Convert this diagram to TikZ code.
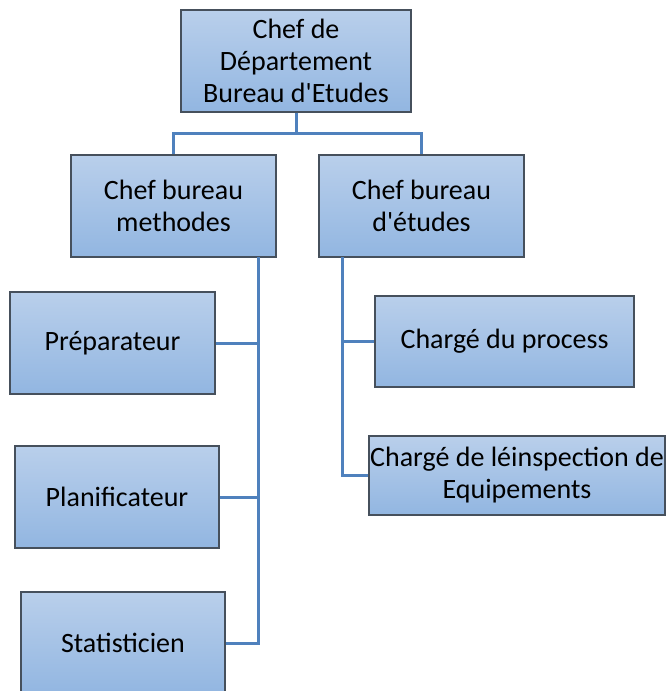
\documentclass[tikz,border=0pt]{standalone}
\usepackage{fontspec}
\setmainfont{Carlito}
\definecolor{boxtop}{RGB}{185,207,235}
\definecolor{boxbot}{RGB}{146,182,225}
\definecolor{boxline}{RGB}{70,80,92}
\definecolor{linkblue}{RGB}{79,129,189}
\tikzset{
  unit/.style={draw=boxline, line width=1.2pt, top color=boxtop, bottom color=boxbot,
    inner sep=0pt, align=center, font=\fontsize{28}{32}\selectfont},
  link/.style={draw=linkblue, line width=3pt}
}
\begin{document}
\begin{tikzpicture}[x=1pt,y=-1pt]
  \useasboundingbox (0,0) rectangle (667,691);
  % boxes
  \node[unit, minimum width=230, minimum height=102] (chef) at (296,61) {Chef de\\D\'epartement\\Bureau d\textquotesingle Etudes};
  \node[unit, minimum width=205, minimum height=102] (meth) at (173.5,206) {Chef bureau\\methodes};
  \node[unit, minimum width=205, minimum height=102] (etud) at (421.5,206) {Chef bureau\\d\textquotesingle\'etudes};
  \node[unit, minimum width=205, minimum height=102] (prep) at (112.5,343) {Pr\'eparateur};
  \node[unit, minimum width=204, minimum height=102] (plan) at (117,497) {Planificateur};
  \node[unit, minimum width=204, minimum height=102] (stat) at (123,643) {Statisticien};
  \node[unit, minimum width=259, minimum height=91] (proc) at (504.5,341.5) {Charg\'e du process};
  \node[unit, minimum width=296, minimum height=79] (insp) at (517,475.5) {Charg\'e de l\'einspection de\\Equipements};
  % connectors
  \coordinate (mdown) at (258,257);
  \coordinate (edown) at (342,257);
  \draw[link] (chef.south) -- ++(0,21) -| (meth.north);
  \draw[link] (chef.south) -- ++(0,21) -| (etud.north);
  \draw[link] (mdown) |- (prep.east);
  \draw[link] (mdown) |- (plan.east);
  \draw[link] (mdown) |- (stat.east);
  \draw[link] (edown) |- (proc.west);
  \draw[link] (edown) |- (insp.west);
\end{tikzpicture}
\end{document}
